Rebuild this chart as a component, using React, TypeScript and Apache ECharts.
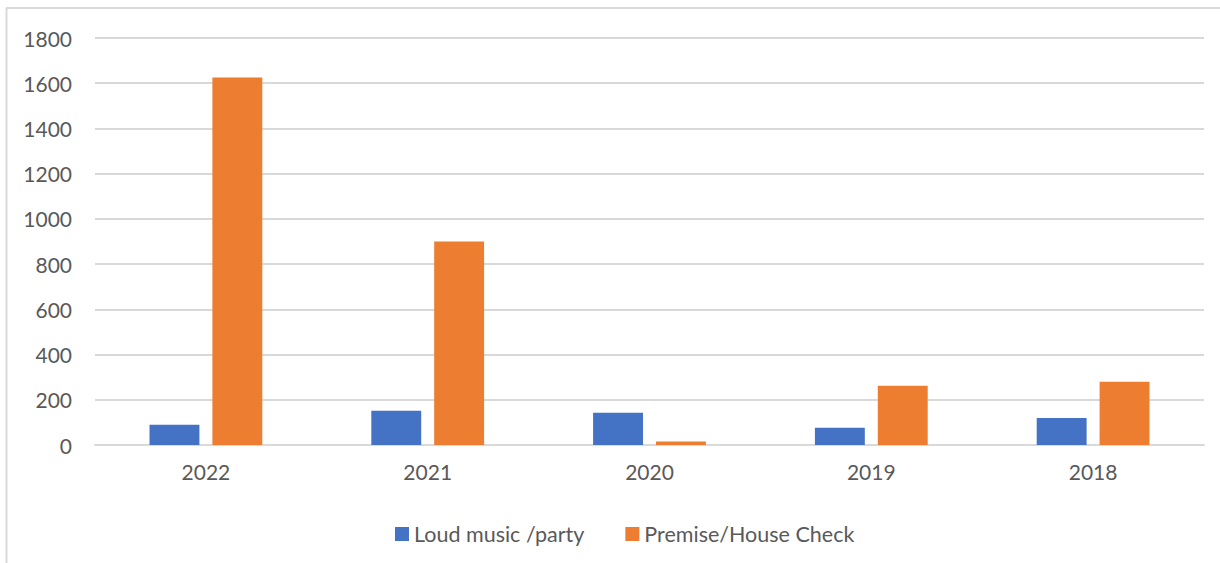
import React, { useEffect, useRef } from "react";
import * as echarts from "echarts";

const categories = ["2022", "2021", "2020", "2019", "2018"];
const loudMusic = [90, 151, 143, 76, 119];
const premiseCheck = [1625, 900, 15, 262, 280];
const seriesNames = ["Loud music /party", "Premise/House Check"];

const FONT = "Lato, 'Open Sans', sans-serif";
const TEXT = "#595959";

export default function App() {
  const ref = useRef<HTMLDivElement>(null);
  useEffect(() => {
    const chart = echarts.init(ref.current!, null, { renderer: "svg" });
    chart.setOption({
      animation: false,
      textStyle: { fontFamily: FONT },
      grid: { left: 95, right: 16, top: 38, bottom: 118, containLabel: false },
      legend: {
        left: 390,
        top: 518,
        itemWidth: 14,
        itemHeight: 14,
        itemGap: 41,
        icon: "rect",
        textStyle: {
          color: TEXT,
          fontSize: 21.5,
          lineHeight: 22,
          fontFamily: FONT,
        },
        data: seriesNames,
      },
      xAxis: {
        type: "category",
        data: categories,
        axisLine: { lineStyle: { color: "#d9d9d9", width: 2 } },
        axisTick: { show: false },
        axisLabel: { color: TEXT, fontSize: 21, margin: 16, fontFamily: FONT },
      },
      yAxis: {
        type: "value",
        min: 0,
        max: 1800,
        interval: 200,
        axisLine: { show: false },
        axisTick: { show: false },
        splitLine: { lineStyle: { color: "#d9d9d9", width: 2 } },
        axisLabel: {
          color: TEXT,
          fontSize: 21,
          margin: 23,
          fontFamily: FONT,
          formatter: (v: number) => String(v),
        },
      },
      series: [
        {
          name: seriesNames[0],
          type: "bar",
          data: loudMusic,
          barWidth: "22.5%",
          barGap: "26%",
          itemStyle: { color: "#4472c4" },
        },
        {
          name: seriesNames[1],
          type: "bar",
          data: premiseCheck,
          barWidth: "22.5%",
          barGap: "26%",
          itemStyle: { color: "#ed7d31" },
        },
      ],
      graphic: [
        {
          type: "line",
          shape: { x1: 6.5, y1: 8, x2: 6.5, y2: 563 },
          style: { stroke: "#d9d9d9", lineWidth: 2 },
        },
        {
          type: "line",
          shape: { x1: 6, y1: 8, x2: 1220, y2: 8 },
          style: { stroke: "#d9d9d9", lineWidth: 2 },
        },
      ],
    });
    return () => chart.dispose();
  }, []);
  return (
    <div
      ref={ref}
      style={{ position: "absolute", left: 0, top: 0, width: 1220, height: 563, background: "#fff" }}
    />
  );
}
